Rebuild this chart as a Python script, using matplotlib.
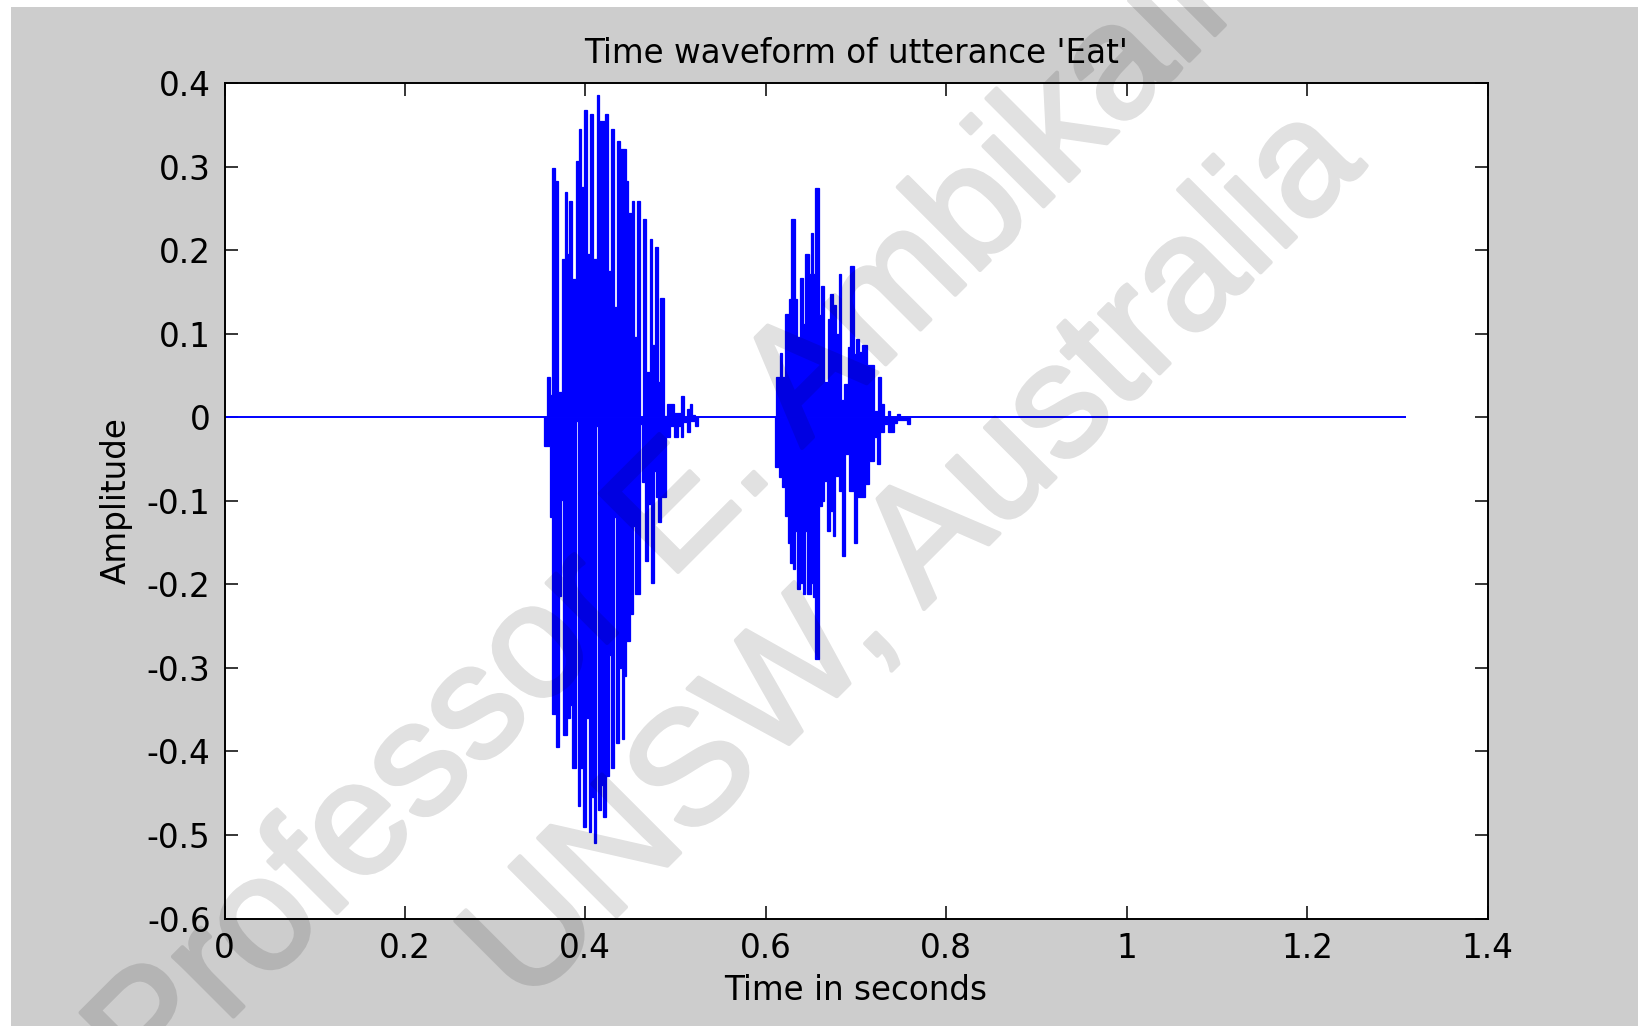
import numpy as np
import matplotlib
matplotlib.use("Agg")
import matplotlib.pyplot as plt
from matplotlib.patches import Rectangle
import matplotlib.patheffects as pe

# ---------------- data ----------------
title_text = "Time waveform of utterance 'Eat'"
x_label = "Time in seconds"
y_label = "Amplitude"

x_ticks = [0.0, 0.2, 0.4, 0.6, 0.8, 1.0, 1.2, 1.4]
x_tick_labels = ["0", "0.2", "0.4", "0.6", "0.8", "1", "1.2", "1.4"]
y_ticks = [-0.6, -0.5, -0.4, -0.3, -0.2, -0.1, 0.0, 0.1, 0.2, 0.3, 0.4]
y_tick_labels = ["-0.6", "-0.5", "-0.4", "-0.3", "-0.2", "-0.1", "0",
                 "0.1", "0.2", "0.3", "0.4"]

# silent part of the signal (whole recording at zero amplitude)
baseline_t = [0.0, 1.31]
baseline_v = [0.0, 0.0]

# burst 1 ("Ea") - positive envelope (step edges in s, peak values)
b1_up_edges = [0.3573, 0.3609, 0.3635, 0.3665, 0.3694, 0.3739, 0.3776, 0.3798,
               0.3824, 0.3857, 0.3894, 0.3924, 0.3953, 0.3990, 0.4020, 0.4057,
               0.4087, 0.4124, 0.4153, 0.4220, 0.4249, 0.4286, 0.4323, 0.4346,
               0.4386, 0.4453, 0.4478, 0.4515, 0.4542, 0.4571, 0.4601, 0.4638,
               0.4675, 0.4712, 0.4741, 0.4775, 0.4804, 0.4830, 0.4867, 0.4904,
               0.4985, 0.5060, 0.5089, 0.5126, 0.5163, 0.5185, 0.5219]
b1_up_vals = [0.048, 0.026, 0.298, 0.283, 0.030, 0.189, 0.269, 0.195, 0.259,
              0.165, 0.307, 0.345, 0.275, 0.368, 0.195, 0.363, 0.189, 0.386,
              0.354, 0.363, 0.175, 0.345, 0.132, 0.331, 0.321, 0.283, 0.245,
              0.259, 0.096, 0.259, 0.0, 0.237, 0.054, 0.213, 0.086, 0.204,
              0.042, 0.143, 0.002, 0.016, 0.005, 0.025, 0.0, 0.010, 0.016, 0.003]

# burst 1 - negative envelope
b1_dn_edges = [0.3547, 0.3609, 0.3635, 0.3672, 0.3709, 0.3731, 0.3753, 0.3798,
               0.3828, 0.3857, 0.3894, 0.3916, 0.3946, 0.3976, 0.4005, 0.4035,
               0.4064, 0.4094, 0.4116, 0.4138, 0.4168, 0.4198, 0.4227, 0.4257,
               0.4279, 0.4316, 0.4338, 0.4375, 0.4405, 0.4423, 0.4453, 0.4490,
               0.4527, 0.4549, 0.4601, 0.4630, 0.4660, 0.4697, 0.4726, 0.4756,
               0.4778, 0.4808, 0.4837, 0.4897, 0.4941, 0.4985, 0.5030, 0.5060,
               0.5082, 0.5126, 0.5156, 0.5219, 0.5252]
b1_dn_vals = [-0.034, -0.120, -0.355, -0.395, -0.214, -0.099, -0.380, -0.360,
              -0.345, -0.420, -0.005, -0.465, -0.420, -0.490, -0.360, -0.497,
              -0.455, -0.510, -0.010, -0.470, -0.440, -0.479, -0.430, -0.285,
              -0.420, -0.120, -0.390, -0.300, -0.385, -0.310, -0.268, -0.236,
              -0.130, -0.212, -0.008, -0.078, -0.172, -0.104, -0.198, -0.064,
              -0.096, -0.126, -0.096, -0.024, -0.010, -0.024, -0.010, -0.024,
              -0.006, -0.018, -0.004, -0.010]

# burst 2 ("t") - positive envelope
b2_up_edges = [0.6117, 0.6154, 0.6184, 0.6217, 0.6254, 0.6280, 0.6320, 0.6346,
               0.6383, 0.6413, 0.6438, 0.6475, 0.6498, 0.6528, 0.6550, 0.6587,
               0.6613, 0.6650, 0.6687, 0.6716, 0.6746, 0.6783, 0.6808, 0.6834,
               0.6871, 0.6908, 0.6938, 0.6975, 0.7004, 0.7034, 0.7071, 0.7123,
               0.7205, 0.7241, 0.7278, 0.7308, 0.7352, 0.7382, 0.7456, 0.7485]
b2_up_vals = [0.048, 0.077, 0.048, 0.124, 0.141, 0.237, 0.141, 0.096, 0.167,
              0.111, 0.195, 0.171, 0.221, 0.171, 0.274, 0.122, 0.157, 0.042,
              0.118, 0.147, 0.134, 0.099, 0.171, 0.020, 0.040, 0.084, 0.181,
              0.076, 0.094, 0.078, 0.086, 0.063, 0.008, 0.048, 0.016, 0.0,
              0.008, 0.0, 0.004]

# burst 2 - negative envelope
b2_dn_edges = [0.6105, 0.6143, 0.6180, 0.6217, 0.6243, 0.6272, 0.6302, 0.6328,
               0.6346, 0.6383, 0.6413, 0.6438, 0.6457, 0.6498, 0.6528, 0.6550,
               0.6587, 0.6624, 0.6650, 0.6679, 0.6716, 0.6746, 0.6772, 0.6809,
               0.6846, 0.6875, 0.6920, 0.6975, 0.7012, 0.7049, 0.7105, 0.7142,
               0.7197, 0.7234, 0.7264, 0.7308, 0.7352, 0.7419, 0.7456, 0.7567,
               0.7604]
b2_dn_vals = [-0.060, -0.072, -0.084, -0.118, -0.150, -0.174, -0.182, -0.136,
              -0.206, -0.198, -0.212, -0.136, -0.212, -0.198, -0.215, -0.290,
              -0.106, -0.100, -0.076, -0.136, -0.112, -0.142, -0.070, -0.088,
              -0.166, -0.044, -0.088, -0.150, -0.096, -0.096, -0.080, -0.052,
              -0.024, -0.056, -0.018, -0.008, -0.018, -0.007, -0.003, -0.008]

watermark_lines = ["Professor E. Ambikairajah", "UNSW, Australia"]

# ---------------- figure ----------------
W, H = 1638, 1026
fig = plt.figure(figsize=(W / 100, H / 100), dpi=100, facecolor="white")
fig.patches.append(Rectangle((11 / W, 0), 1, 1 - 7 / H, transform=fig.transFigure,
                             facecolor="#cdcdcd", edgecolor="none", zorder=-10))

ax_left, ax_right, ax_top, ax_bottom = 224.5, 1487.5, 83.0, 918.5
ax = fig.add_axes([ax_left / W, 1 - ax_bottom / H,
                   (ax_right - ax_left) / W, (ax_bottom - ax_top) / H])
ax.set_facecolor("white")

wave_color = (0, 0, 1)
ax.plot(baseline_t, baseline_v, color=wave_color, lw=1.4, solid_capstyle="butt")
for edges, vals in [(b1_up_edges, b1_up_vals), (b1_dn_edges, b1_dn_vals),
                    (b2_up_edges, b2_up_vals), (b2_dn_edges, b2_dn_vals)]:
    ax.stairs(vals, edges, baseline=0, fill=True, facecolor=wave_color,
              edgecolor=wave_color, linewidth=0.9)

ax.set_xlim(0, 1.4)
ax.set_ylim(-0.6, 0.4)
ax.set_xticks(x_ticks)
ax.set_xticklabels(x_tick_labels)
ax.set_yticks(y_ticks)
ax.set_yticklabels(y_tick_labels)

fs = 23.5
ax.tick_params(direction="in", length=9.5, width=1.1, top=True, right=True,
               labelsize=fs, colors="black")
ax.tick_params(axis="x", pad=10)
ax.tick_params(axis="y", pad=10)
for sp in ax.spines.values():
    sp.set_linewidth(1.4)
    sp.set_color("black")

ax.set_title(title_text, fontsize=fs, pad=14.5)
ax.set_xlabel(x_label, fontsize=fs, labelpad=6)
ax.set_ylabel(y_label, fontsize=fs, labelpad=10)


# watermark: opaque glyphs (slightly thickened), made uniformly translucent
def translucent(img, dpi):
    img = img.copy()
    img[..., 3] *= 0.12
    return img, 0, 0


wm_pos = [(805 / W, 1 - 445 / H), (946 / W, 1 - 587 / H)]
for (px, py), txt in zip(wm_pos, watermark_lines):
    t = fig.text(px, py, txt, rotation=45, rotation_mode="anchor",
                 ha="center", va="baseline", fontsize=116,
                 family="Liberation Sans", color="black", zorder=20,
                 path_effects=[pe.withStroke(linewidth=3.0, foreground="black")])
    t.set_agg_filter(translucent)

fig.savefig("out.png", dpi=100, facecolor=fig.get_facecolor())
